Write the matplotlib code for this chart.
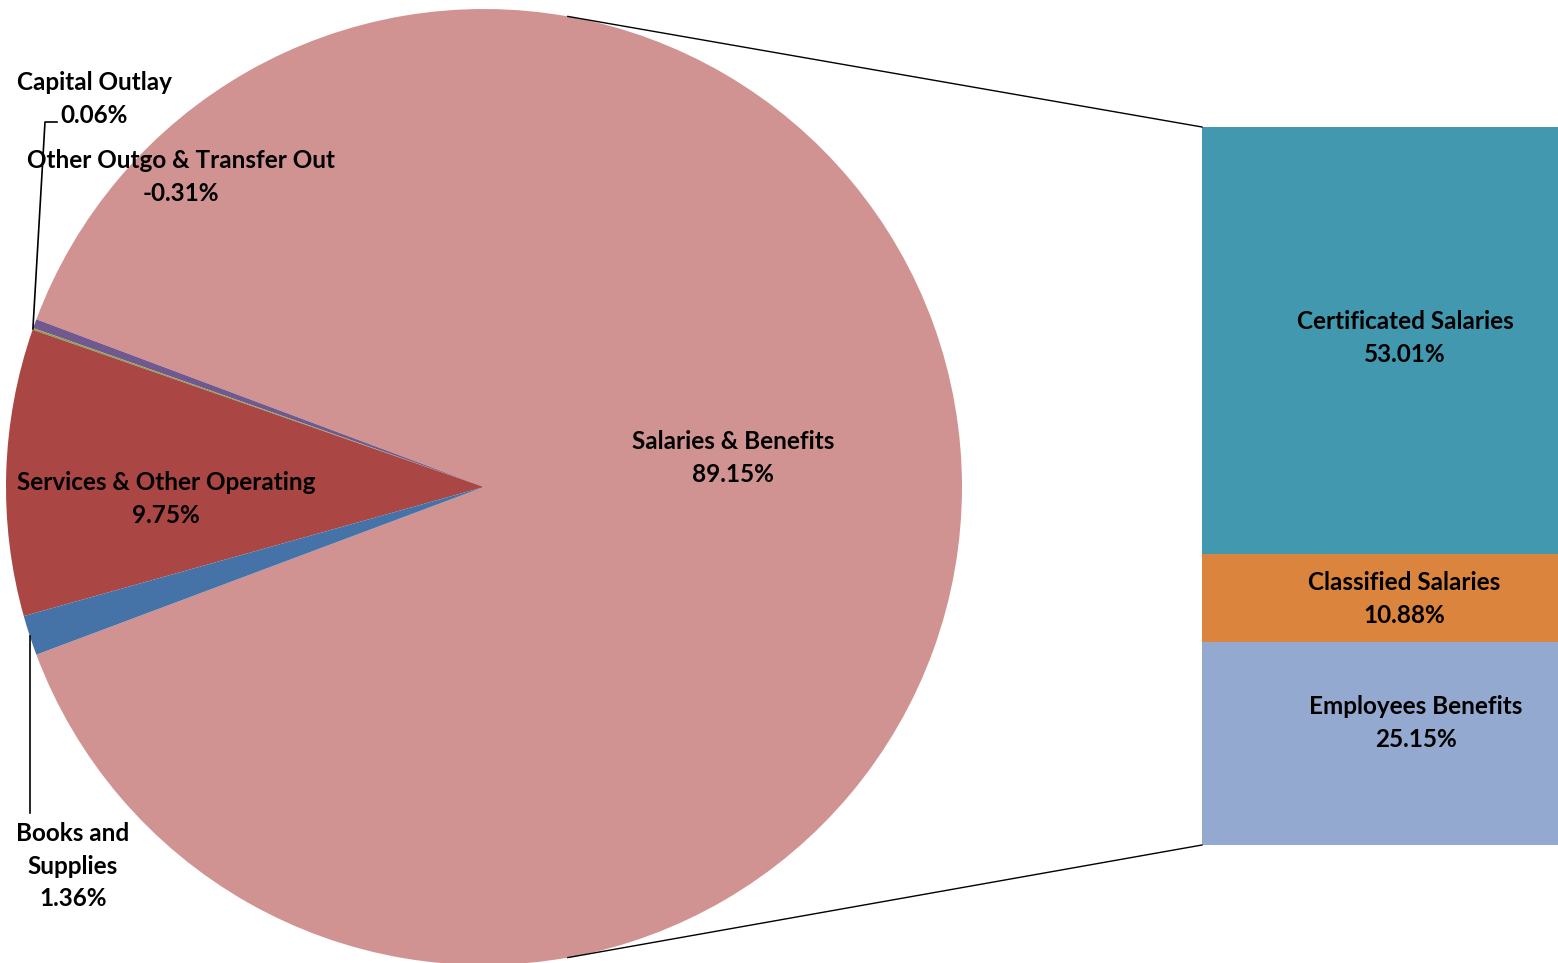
import matplotlib.pyplot as plt
import numpy as np

plt.rcParams['font.family'] = ['Lato', 'DejaVu Sans']

# pie data (percent of net total, as labelled)
pie_names = ["Salaries & Benefits", "Other Outgo & Transfer Out", "Capital Outlay",
             "Services & Other Operating", "Books and\nSupplies"]
pie_values = [89.15, -0.31, 0.06, 9.75, 1.36]
pie_colors = ["#D19392", "#71588F", "#89A54E", "#AA4643", "#4572A7"]

# breakdown of Salaries & Benefits
bar_names = ["Employees Benefits", "Classified Salaries", "Certificated Salaries"]
bar_values = [25.15, 10.88, 53.01]
bar_colors = ["#93A9CF", "#DB843D", "#4198AF"]

W, H = 1558, 963


def py(y):
    # pixel row (from top) -> data y (from bottom)
    return H - y


fig = plt.figure(figsize=(W / 100, H / 100), dpi=100)
ax = fig.add_axes([0, 0, 1, 1])

cx, cy, r = 484, py(487), 478
sizes = np.abs(pie_values)
total = sizes.sum()
sal_angle = sizes[0] / total * 360
wedges, _ = ax.pie(sizes, colors=pie_colors, startangle=-sal_angle / 2,
                   center=(cx, cy), radius=r, counterclock=True,
                   wedgeprops=dict(linewidth=0))

# wedge mid angles for leader lines
bounds = -sal_angle / 2 + np.concatenate([[0], np.cumsum(sizes / total * 360)])
mids = np.radians((bounds[:-1] + bounds[1:]) / 2)


def edge(a):
    return cx + r * np.cos(a), cy + r * np.sin(a)


# bar of the breakdown
bar_left, bar_right = 1202, 1558
bar_top, bar_bot = py(127), py(845)
scale = (bar_top - bar_bot) / sum(bar_values)
bottom = bar_bot
for v, c in zip(bar_values, bar_colors):
    ax.bar((bar_left + bar_right) / 2, v * scale, width=bar_right - bar_left,
           bottom=bottom, color=c, linewidth=0)
    bottom += v * scale

# connector lines
ang = np.radians(79.9)
x0, y0 = edge(ang)
ax.plot([x0, bar_left], [y0, bar_top], color="black", lw=1)
ax.plot([x0, bar_left], [2 * cy - y0, bar_bot], color="black", lw=1)

# leader lines
ex, ey = edge(mids[2])
ax.plot([ex, 45, 57], [ey, py(122), py(122)], color="black", lw=1.2)
ex, ey = edge(mids[4])
ax.plot([ex, ex], [ey, py(813)], color="black", lw=1.2)

fs = 17.5
kw = dict(ha="center", va="center", fontsize=fs, fontweight="bold",
          linespacing=1.5)


def lab(x, y, name, val):
    ax.text(x, py(y), f"{name}\n{val:.2f}%", **kw)


lab(733, 458, pie_names[0], pie_values[0])
lab(181, 177, pie_names[1], pie_values[1])
lab(94, 99, pie_names[2], pie_values[2])
lab(166, 499, pie_names[3], pie_values[3])
lab(73, 866, pie_names[4], pie_values[4])

lab(1405, 338, bar_names[2], bar_values[2])
lab(1404, 599, bar_names[1], bar_values[1])
lab(1416, 723, bar_names[0], bar_values[0])

ax.set_xlim(0, W)
ax.set_ylim(0, H)
ax.set_aspect("equal")
ax.axis("off")

fig.savefig("out.png", dpi=100)
